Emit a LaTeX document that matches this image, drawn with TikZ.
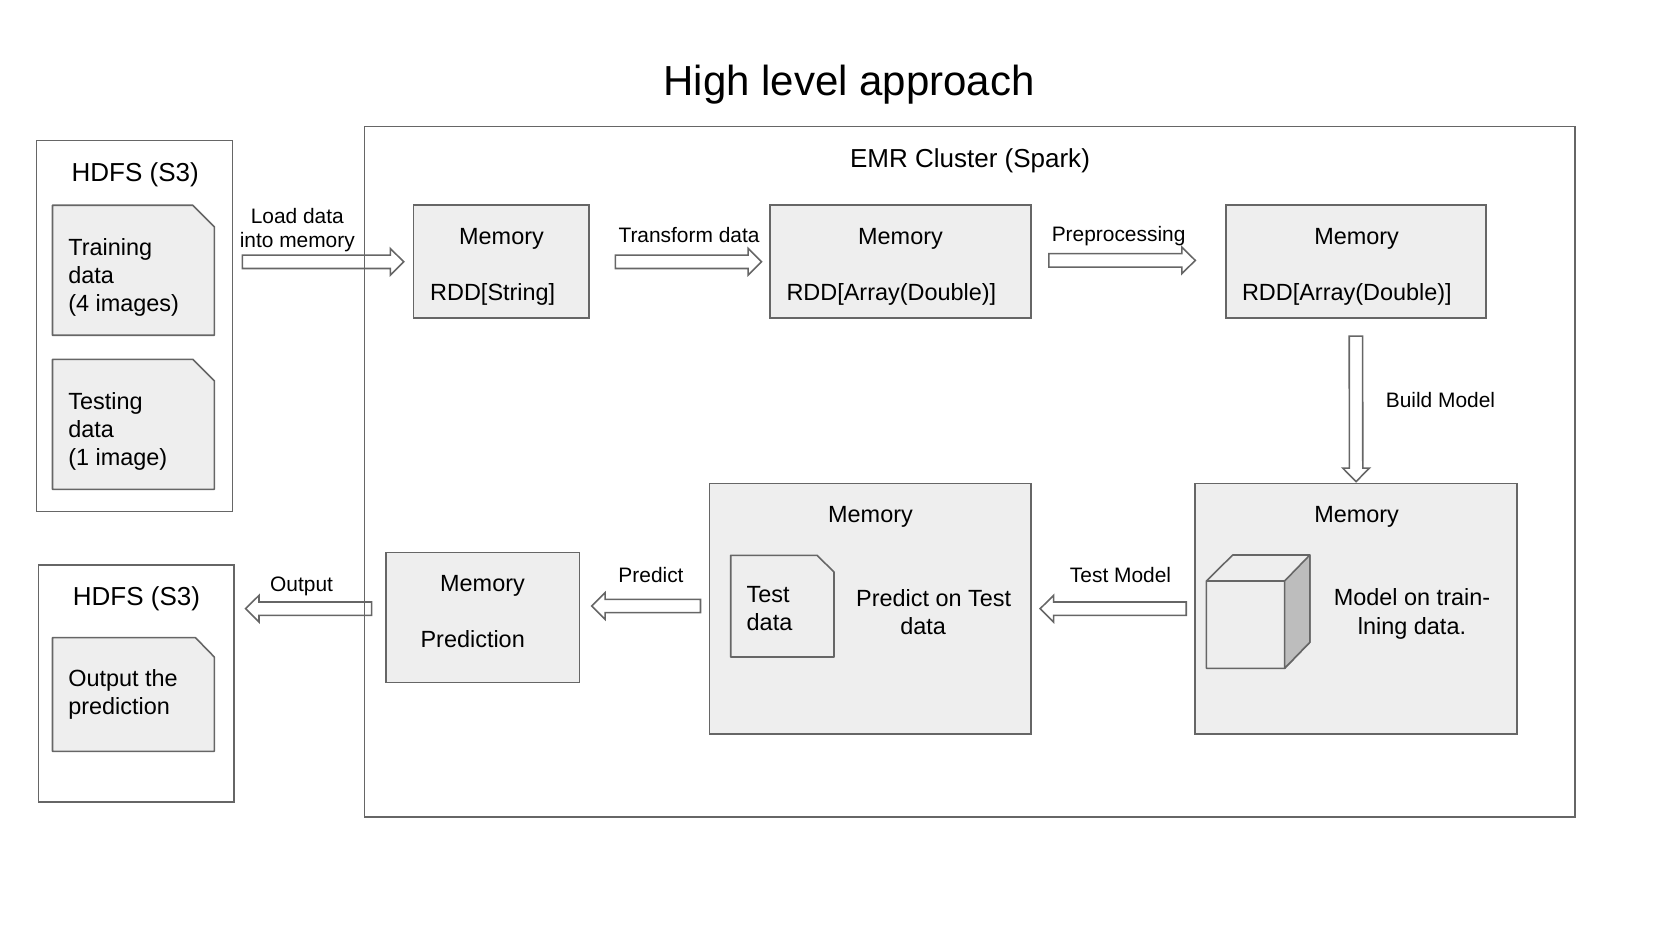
\documentclass[tikz,border=0pt]{standalone}
\usepackage{fontspec}
\setmainfont{Liberation Sans}
\usetikzlibrary{calc}
\definecolor{edgegray}{HTML}{666666}
\definecolor{boxgray}{HTML}{EEEEEE}
\definecolor{sidegray}{HTML}{BDBDBD}
\tikzset{
  plainbox/.style={draw=edgegray, line width=0.45pt, inner sep=0pt},
  membox/.style={plainbox, fill=boxgray},
  docbox/.style={draw=edgegray, line width=0.45pt, fill=boxgray, line join=round},
  bodytext/.style={inner sep=0pt, font=\fontsize{6.67}{8}\selectfont},
  doctext/.style={bodytext, anchor=west, align=left},
  storetext/.style={inner sep=0pt, font=\fontsize{7.4}{9}\selectfont},
  flowtext/.style={inner sep=0pt, align=center, font=\fontsize{5.95}{6.8}\selectfont},
  blockarrow/.style={draw=edgegray, line width=0.45pt, line join=miter, to path={
    ($(\tikztostart)!.067cm!90:(\tikztotarget)$)
    -- ($(\tikztotarget)!.134cm!(\tikztostart)!.067cm!90:(\tikztotarget)$)
    -- ($(\tikztotarget)!.134cm!(\tikztostart)!.133cm!90:(\tikztotarget)$)
    -- (\tikztotarget)
    -- ($(\tikztotarget)!.134cm!(\tikztostart)!.133cm!-90:(\tikztotarget)$)
    -- ($(\tikztotarget)!.134cm!(\tikztostart)!.067cm!-90:(\tikztotarget)$)
    -- ($(\tikztostart)!.067cm!-90:(\tikztotarget)$)
    -- cycle}}
}

\begin{document}
\begin{tikzpicture}
    \useasboundingbox (0,0) rectangle (16.8,9.44);

    % Title
    \node[inner sep=0pt, font=\fontsize{11.95}{14}\selectfont] (title) at (8.49,8.595) {High level approach};

    % Cluster
    \node[plainbox, minimum width=12.107cm, minimum height=6.903cm] (emr) at (9.697,4.722) {};
    \node[storetext] (emrtitle) at (9.7,7.832) {EMR Cluster (Spark)};

    % Input store
    \node[plainbox, minimum width=1.961cm, minimum height=3.71cm] (hdfsin) at (1.345,6.178) {};
    \node[storetext] (hdfsintitle) at (1.352,7.693) {HDFS (S3)};
    \draw[docbox] (0.525,7.387) -- (1.929,7.387) -- (2.143,7.173) -- (2.143,6.087) -- (0.525,6.087) -- cycle;
    \node[doctext] (training) at (0.676,6.663) {Training\\data\\(4 images)};
    \draw[docbox] (0.525,5.847) -- (1.929,5.847) -- (2.143,5.633) -- (2.143,4.547) -- (0.525,4.547) -- cycle;
    \node[doctext] (testing) at (0.676,5.123) {Testing\\data\\(1 image)};

    % Output store
    \node[plainbox, minimum width=1.954cm, minimum height=2.373cm] (hdfsout) at (1.363,2.606) {};
    \node[storetext] (hdfsouttitle) at (1.365,3.45) {HDFS (S3)};
    \draw[docbox] (0.525,3.063) -- (1.955,3.063) -- (2.143,2.87) -- (2.143,1.927) -- (0.525,1.927) -- cycle;
    \node[doctext] (outputdoc) at (0.676,2.498) {Output the\\prediction};

    % Top row
    \node[membox, minimum width=1.752cm, minimum height=1.13cm] (memstr) at (5.012,6.822) {};
    \node[bodytext] (memstrtop) at (5.015,7.048) {Memory};
    \node[bodytext, anchor=west] (memstrtype) at (4.295,6.495) {RDD[String]};

    \node[membox, minimum width=2.609cm, minimum height=1.13cm] (mema) at (9.003,6.822) {};
    \node[bodytext] (mematop) at (9.005,7.048) {Memory};
    \node[bodytext, anchor=west] (ematype) at (7.858,6.495) {RDD[Array(Double)]};

    \node[membox, minimum width=2.603cm, minimum height=1.13cm] (memb) at (13.559,6.822) {};
    \node[bodytext] (membtop) at (13.566,7.048) {Memory};
    \node[bodytext, anchor=west] (membtype) at (12.413,6.495) {RDD[Array(Double)]};

    % Model
    \node[membox, minimum width=3.218cm, minimum height=2.507cm] (model) at (13.561,3.353) {};
    \node[bodytext] (modeltop) at (13.566,4.275) {Memory};
    \draw[docbox] (12.064,3.63) -- (12.327,3.89) -- (13.098,3.89) -- (13.098,3.017) -- (12.846,2.757) -- (12.064,2.757) -- cycle;
    \draw[docbox, fill=sidegray] (12.846,3.63) -- (13.098,3.89) -- (13.098,3.017) -- (12.846,2.757) -- cycle;
    \draw[docbox, fill=none] (12.064,3.63) -- (12.846,3.63);
    \node[bodytext, align=center] (modeltext) at (14.12,3.3) {Model on train-\\lning data.};

    % Test data
    \node[membox, minimum width=3.219cm, minimum height=2.507cm] (testmem) at (8.703,3.353) {};
    \node[bodytext] (testmemtop) at (8.705,4.275) {Memory};
    \draw[docbox] (7.307,3.887) -- (8.17,3.887) -- (8.34,3.72) -- (8.34,2.87) -- (7.307,2.87) -- cycle;
    \node[doctext] (testdoc) at (7.46,3.355) {Test\\data};
    \node[bodytext, align=center] (testtext) at (9.337,3.32) {Predict on Test\\data\hspace*{.21cm}};

    % Prediction
    \node[membox, minimum width=1.939cm, minimum height=1.3cm] (pred) at (4.827,3.263) {};
    \node[bodytext] (predtop) at (4.825,3.58) {Memory};
    \node[bodytext] (predtext) at (4.727,3.045) {Prediction};

    % Arrows
    \draw[blockarrow] ([xshift=.091cm]hdfsin.east |- memstr) to ([xshift=-.091cm]memstr.west);
    \draw[blockarrow] ([xshift=.257cm]memstr.east) to ([xshift=-.075cm]mema.west);
    \draw[blockarrow] ([xshift=.173cm,yshift=.014cm]mema.east) to ([xshift=-.297cm,yshift=.014cm]memb.west);
    \draw[blockarrow] ([yshift=-.171cm]memb.south) to ([yshift=.01cm]model.north);
    \draw[blockarrow] ([xshift=-.082cm]model.west) to ([xshift=.081cm]testmem.east);
    \draw[blockarrow] ([xshift=-.081cm,yshift=.027cm]testmem.west) to ([xshift=.113cm,yshift=.027cm]pred.east |- testmem);
    \draw[blockarrow] ([xshift=-.134cm]pred.west |- testmem) to ([xshift=.108cm]hdfsout.east |- testmem);

    % Arrow labels
    \node[flowtext] (loadlabel) at (2.973,7.135) {Load data\\into memory};
    \node[flowtext] (transformlabel) at (6.89,7.09) {Transform data};
    \node[flowtext] (preproclabel) at (11.186,7.08) {Preprocessing};
    \node[flowtext] (buildlabel) at (14.405,5.444) {Build Model};
    \node[flowtext] (testlabel) at (11.205,3.69) {Test Model};
    \node[flowtext] (predictlabel) at (6.51,3.693) {Predict};
    \node[flowtext] (outputlabel) at (3.016,3.58) {Output};
\end{tikzpicture}
\end{document}
